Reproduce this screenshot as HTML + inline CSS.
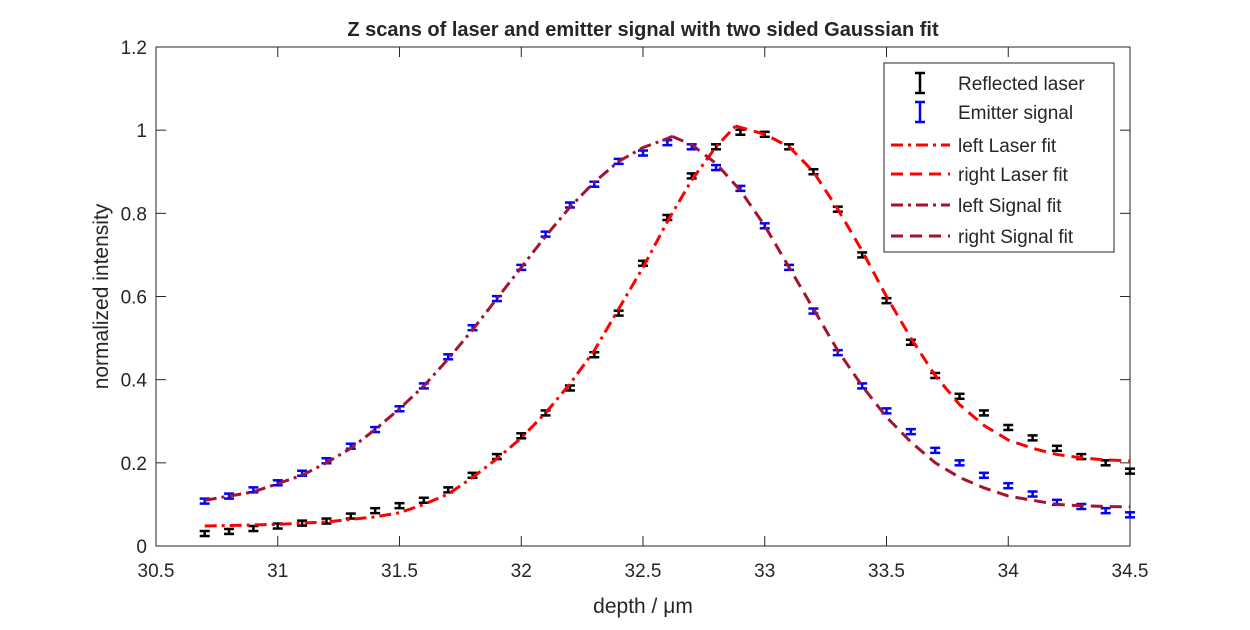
<!DOCTYPE html>
<html><head><meta charset="utf-8"><style>
body{margin:0;background:#fff}
svg text{font-family:"Liberation Sans",Arial,sans-serif;fill:#262626}
</style></head><body>
<svg id="c" width="1250" height="625">
<rect x="0" y="0" width="1250" height="625" fill="#fff"/>
<g id="grid"></g>
<g id="marks"></g>
<g id="legend"></g>
</svg>
<script>
const xs=[30.7,30.8,30.9,31.0,31.1,31.2,31.3,31.4,31.5,31.6,31.7,31.8,31.9,32.0,32.1,32.2,32.3,32.4,32.5,32.6,32.7,32.8,32.9,33.0,33.1,33.2,33.3,33.4,33.5,33.6,33.7,33.8,33.9,34.0,34.1,34.2,34.3,34.4,34.5];
const laser=[0.03,0.035,0.042,0.048,0.055,0.06,0.072,0.085,0.097,0.11,0.135,0.17,0.215,0.265,0.32,0.38,0.46,0.56,0.68,0.79,0.89,0.96,0.995,0.99,0.96,0.90,0.81,0.70,0.59,0.49,0.41,0.36,0.32,0.285,0.26,0.235,0.215,0.2,0.18];
const emitter=[0.108,0.12,0.135,0.152,0.175,0.205,0.24,0.28,0.33,0.385,0.455,0.525,0.595,0.67,0.75,0.82,0.87,0.925,0.945,0.97,0.96,0.91,0.86,0.77,0.67,0.565,0.465,0.385,0.325,0.275,0.23,0.2,0.17,0.145,0.125,0.105,0.095,0.085,0.075];
const err=[0.006];
const laserLeftX=[30.7,31.0,31.2,31.4,31.5,31.6,31.7,31.8,31.9,32.0,32.1,32.2,32.3,32.4,32.5,32.6,32.7,32.8,32.88];
const laserLeftY=[0.048,0.052,0.058,0.07,0.08,0.1,0.125,0.165,0.21,0.26,0.32,0.39,0.47,0.57,0.67,0.78,0.88,0.96,1.01];
const laserRightX=[32.88,33.0,33.1,33.2,33.3,33.4,33.5,33.6,33.7,33.8,33.9,34.0,34.1,34.2,34.3,34.4,34.5];
const laserRightY=[1.01,0.99,0.96,0.9,0.81,0.71,0.6,0.5,0.41,0.34,0.29,0.255,0.235,0.22,0.212,0.207,0.205];
const sigLeftX=[30.7,30.9,31.0,31.1,31.2,31.3,31.4,31.5,31.6,31.7,31.8,31.9,32.0,32.1,32.2,32.3,32.4,32.5,32.6,32.62];
const sigLeftY=[0.11,0.13,0.15,0.17,0.2,0.235,0.28,0.33,0.385,0.45,0.52,0.595,0.67,0.745,0.815,0.875,0.925,0.958,0.98,0.985];
const sigRightX=[32.62,32.7,32.8,32.9,33.0,33.1,33.2,33.3,33.4,33.5,33.6,33.7,33.8,33.9,34.0,34.1,34.2,34.3,34.4,34.5];
const sigRightY=[0.985,0.965,0.92,0.855,0.77,0.67,0.57,0.47,0.385,0.31,0.25,0.2,0.165,0.14,0.12,0.11,0.1,0.097,0.095,0.094];
const xTicks=[30.5,31,31.5,32,32.5,33,33.5,34,34.5];
const xTickLabels=["30.5","31","31.5","32","32.5","33","33.5","34","34.5"];
const yTicks=[0,0.2,0.4,0.6,0.8,1,1.2];
const yTickLabels=["0","0.2","0.4","0.6","0.8","1","1.2"];

const L=156,R=1130,T=47,B=546;
const X=v=>L+(v-30.5)/4*(R-L);
const Y=v=>B-v/1.2*(B-T);
const NS="http://www.w3.org/2000/svg";
function mk(tag,attrs,parent,txt){const e=document.createElementNS(NS,tag);for(const k in attrs)e.setAttribute(k,attrs[k]);if(txt!==undefined)e.textContent=txt;parent.appendChild(e);return e;}
const g=document.getElementById('grid'),m=document.getElementById('marks'),lg=document.getElementById('legend');

let box=mk('rect',{x:L,y:T,width:R-L,height:B-T,fill:'none',stroke:'#262626','stroke-width':1},g);


xTicks.forEach((t,i)=>{
  mk('line',{x1:X(t),x2:X(t),y1:B,y2:B-10,stroke:'#262626'},g);
  mk('line',{x1:X(t),x2:X(t),y1:T,y2:T+10,stroke:'#262626'},g);
  const tx=mk('text',{x:X(t),y:B+31,'text-anchor':'middle','font-size':19},g,xTickLabels[i]);
  
  
});
yTicks.forEach((t,i)=>{
  mk('line',{x1:L,x2:L+10,y1:Y(t),y2:Y(t),stroke:'#262626'},g);
  mk('line',{x1:R,x2:R-10,y1:Y(t),y2:Y(t),stroke:'#262626'},g);
  const tx=mk('text',{x:L-9,y:Y(t)+7,'text-anchor':'end','font-size':19},g,yTickLabels[i]);
  
  
});
let ttl=mk('text',{x:(L+R)/2,y:36,'text-anchor':'middle','font-size':20,'font-weight':'bold',fill:'#000'},g,'Z scans of laser and emitter signal with two sided Gaussian fit');


let xl=mk('text',{x:(L+R)/2,y:613,'text-anchor':'middle','font-size':21},g,'depth / \u03BCm');


let yl=mk('text',{x:0,y:0,'text-anchor':'middle','font-size':21,transform:`translate(108,${(T+B)/2}) rotate(-90)`},g,'normalized intensity');



function line(xa,ya,color,dash,name){
  const pts=xa.map((x,i)=>X(x).toFixed(1)+','+Y(ya[i]).toFixed(1)).join(' ');
  const p=mk('polyline',{points:pts,fill:'none',stroke:color,'stroke-width':3,'stroke-dasharray':dash},m);
  
  
}
function errs(vals,color,name){
  vals.forEach((v,i)=>{
    const x=X(xs[i]),y1=Y(v+err[0]),y2=Y(v-err[0]);
    const gg=mk('g',{stroke:color,'stroke-width':2.5},m);
    
    
    mk('line',{x1:x,x2:x,y1:y1,y2:y2},gg);
    mk('line',{x1:x-5,x2:x+5,y1:y1,y2:y1},gg);
    mk('line',{x1:x-5,x2:x+5,y1:y2,y2:y2},gg);
  });
}
errs(laser,'#000','laser-errorbar');
errs(emitter,'#0000ff','emitter-errorbar');
line(laserLeftX,laserLeftY,'#ff0000','12,5,3,5','left-laser-fit');
line(laserRightX,laserRightY,'#ff0000','12,7','right-laser-fit');
line(sigLeftX,sigLeftY,'#a2142f','12,5,3,5','left-signal-fit');
line(sigRightX,sigRightY,'#a2142f','12,7','right-signal-fit');

let lb=mk('rect',{x:884,y:63,width:230,height:189,fill:'#fff',stroke:'#262626'},lg);


const items=[['Reflected laser','#000','eb'],['Emitter signal','#0000ff','eb'],['left Laser fit','#ff0000','12,5,3,5'],['right Laser fit','#ff0000','12,7'],['left Signal fit','#a2142f','12,5,3,5'],['right Signal fit','#a2142f','12,7']];
const ly=[83,112,145,174,205,236];
items.forEach((it,i)=>{
  const y=ly[i];
  const gg=mk('g',{},lg);
  
  
  if(it[2]==='eb'){
    mk('line',{x1:920,x2:920,y1:y-10,y2:y+10,stroke:it[1],'stroke-width':2.5},gg);
    mk('line',{x1:915,x2:925,y1:y-10,y2:y-10,stroke:it[1],'stroke-width':2.5},gg);
    mk('line',{x1:915,x2:925,y1:y+10,y2:y+10,stroke:it[1],'stroke-width':2.5},gg);
  } else {
    mk('line',{x1:891,x2:950,y1:y,y2:y,stroke:it[1],'stroke-width':3,'stroke-dasharray':it[2]},gg);
  }
  mk('text',{x:958,y:y+7,'font-size':19,fill:'#000'},gg,it[0]);
});
</script>
</body></html>
